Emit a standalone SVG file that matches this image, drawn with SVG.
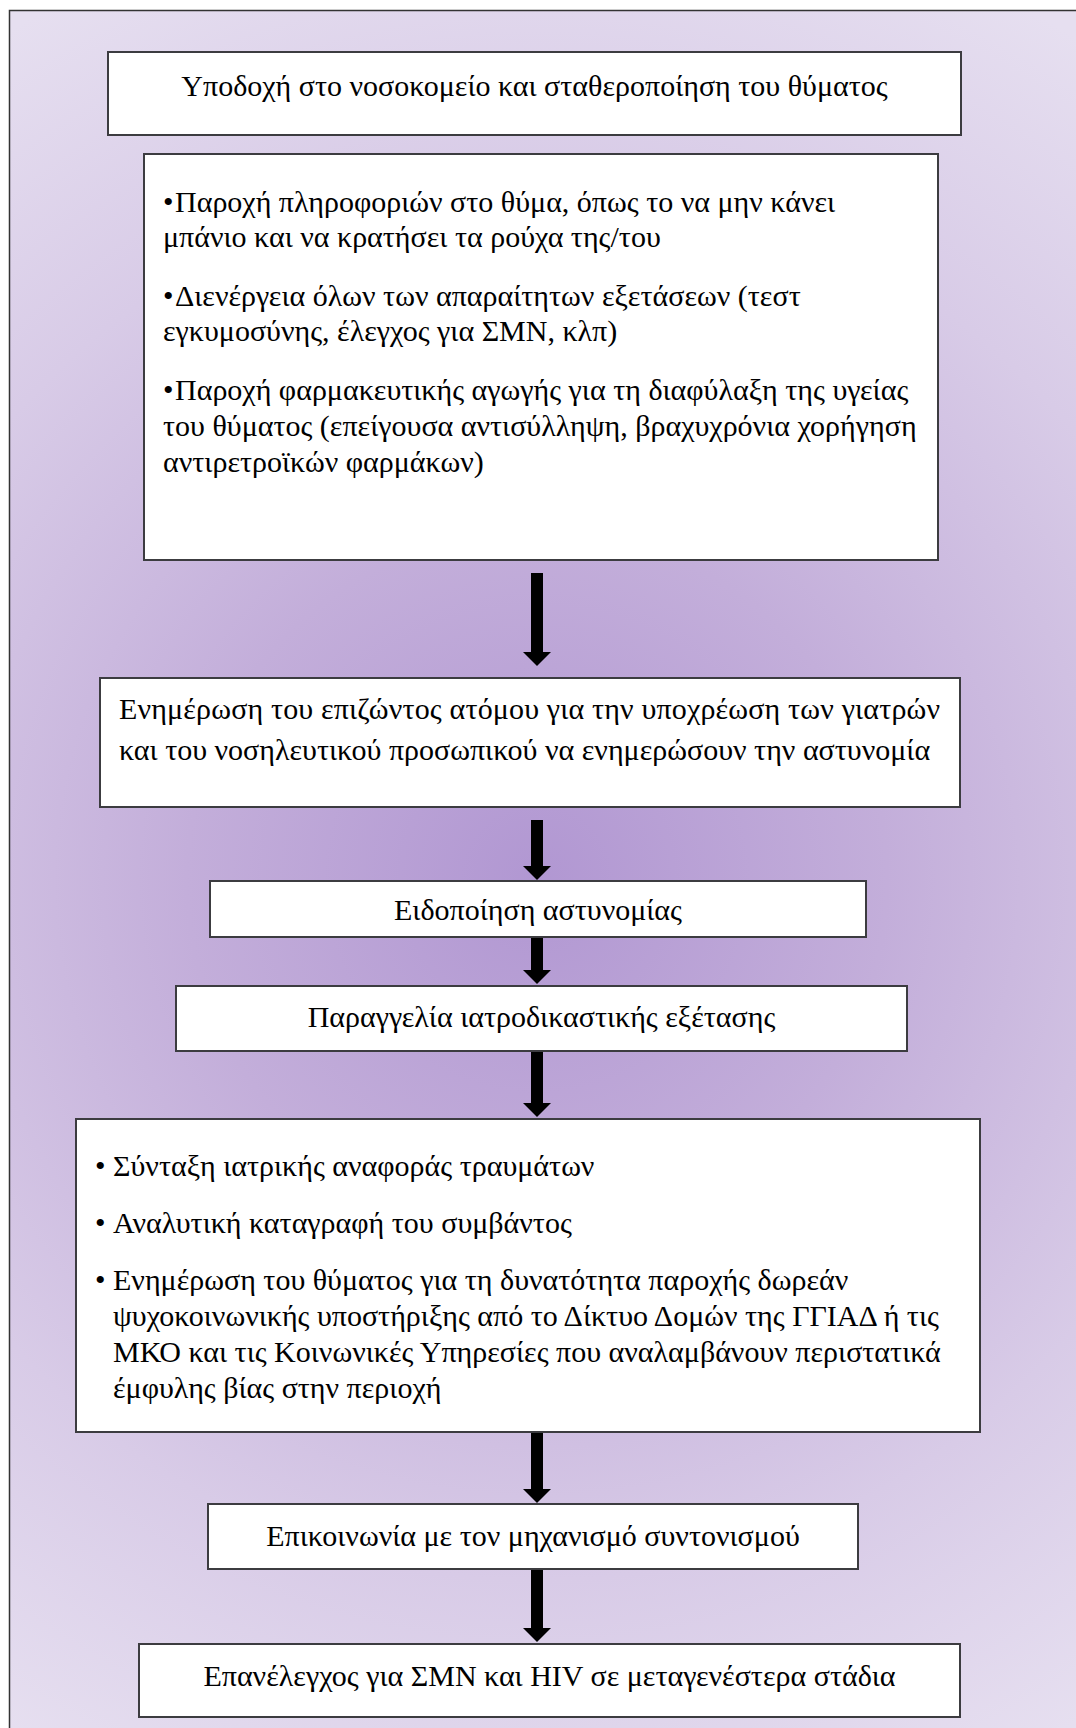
<svg xmlns="http://www.w3.org/2000/svg" width="1076" height="1728" viewBox="0 0 1076 1728">
<defs>
<radialGradient id="bg" gradientUnits="userSpaceOnUse" cx="537" cy="880" r="1000">
<stop offset="0" stop-color="#b197d2"/>
<stop offset="0.35" stop-color="#c3aeda"/>
<stop offset="0.7" stop-color="#d8cbe7"/>
<stop offset="1" stop-color="#e6dff0"/>
</radialGradient>
<marker id="head" viewBox="0 0 14 28" refX="0" refY="14" markerWidth="14" markerHeight="28" markerUnits="userSpaceOnUse" orient="auto">
<path d="M0,0 L14,14 L0,28 Z" fill="#000"/>
</marker>
<style>
.box{fill:#fff;stroke:#3c3c40;stroke-width:2}
.t{font-family:"Liberation Serif","DejaVu Serif",serif;font-size:30px;fill:#000}
.c{text-anchor:middle}
.arr{stroke:#000;stroke-width:12;fill:none;marker-end:url(#head)}
</style>
</defs>
<rect x="9.5" y="10.5" width="1100" height="1760" fill="url(#bg)" stroke="#333" stroke-width="1.5"/>
<g id="connectors">
<line class="arr" x1="537" y1="573" x2="537" y2="652"/>
<line class="arr" x1="537" y1="820" x2="537" y2="866"/>
<line class="arr" x1="537" y1="937" x2="537" y2="970"/>
<line class="arr" x1="537" y1="1051" x2="537" y2="1103"/>
<line class="arr" x1="537" y1="1432" x2="537" y2="1489"/>
<line class="arr" x1="537" y1="1569" x2="537" y2="1628"/>
</g>
<g id="n1">
<rect class="box" x="108" y="52" width="853" height="83"/>
<text class="t c" x="534.5" y="96">Υποδοχή στο νοσοκομείο και σταθεροποίηση του θύματος</text>
</g>
<g id="n2">
<rect class="box" x="144" y="154" width="794" height="406"/>
<text class="t" x="163" y="212">•<tspan x="175">Παροχή πληροφοριών στο θύμα, όπως το να μην κάνει</tspan></text>
<text class="t" x="163" y="247">μπάνιο και να κρατήσει τα ρούχα της/του</text>
<text class="t" x="163" y="306">•<tspan x="175">Διενέργεια όλων των απαραίτητων εξετάσεων (τεστ</tspan></text>
<text class="t" x="163" y="341">εγκυμοσύνης, έλεγχος για ΣΜΝ, κλπ)</text>
<text class="t" x="163" y="400">•<tspan x="175">Παροχή φαρμακευτικής αγωγής για τη διαφύλαξη της υγείας</tspan></text>
<text class="t" x="163" y="436">του θύματος (επείγουσα αντισύλληψη, βραχυχρόνια χορήγηση</text>
<text class="t" x="163" y="472">αντιρετροϊκών φαρμάκων)</text>
</g>
<g id="n3">
<rect class="box" x="100" y="678" width="860" height="129"/>
<text class="t" x="119" y="719" textLength="821" lengthAdjust="spacing">Ενημέρωση του επιζώντος ατόμου για την υποχρέωση των γιατρών</text>
<text class="t" x="119" y="760">και του νοσηλευτικού προσωπικού να ενημερώσουν την αστυνομία</text>
</g>
<g id="n4">
<rect class="box" x="210" y="881" width="656" height="56"/>
<text class="t c" x="538" y="920">Ειδοποίηση αστυνομίας</text>
</g>
<g id="n5">
<rect class="box" x="176" y="986" width="731" height="65"/>
<text class="t c" x="541.5" y="1027">Παραγγελία ιατροδικαστικής εξέτασης</text>
</g>
<g id="n6">
<rect class="box" x="76" y="1119" width="904" height="313"/>
<text class="t" x="95" y="1176">•<tspan x="113">Σύνταξη ιατρικής αναφοράς τραυμάτων</tspan></text>
<text class="t" x="95" y="1233">•<tspan x="113">Αναλυτική καταγραφή του συμβάντος</tspan></text>
<text class="t" x="95" y="1290">•<tspan x="113">Ενημέρωση του θύματος για τη δυνατότητα παροχής δωρεάν</tspan></text>
<text class="t" x="113" y="1326">ψυχοκοινωνικής υποστήριξης από το Δίκτυο Δομών της ΓΓΙΑΔ ή τις</text>
<text class="t" x="113" y="1362">ΜΚΟ και τις Κοινωνικές Υπηρεσίες που αναλαμβάνουν περιστατικά</text>
<text class="t" x="113" y="1398">έμφυλης βίας στην περιοχή</text>
</g>
<g id="n7">
<rect class="box" x="208" y="1504" width="650" height="65"/>
<text class="t c" x="533" y="1546">Επικοινωνία με τον μηχανισμό συντονισμού</text>
</g>
<g id="n8">
<rect class="box" x="139" y="1644" width="821" height="73"/>
<text class="t c" x="549.5" y="1686">Επανέλεγχος για ΣΜΝ και HIV σε μεταγενέστερα στάδια</text>
</g>
</svg>
